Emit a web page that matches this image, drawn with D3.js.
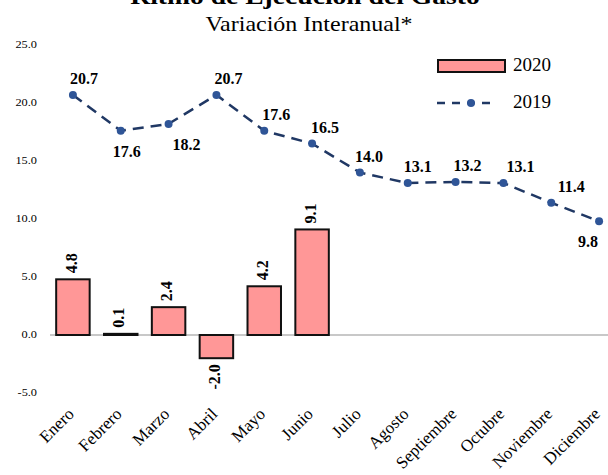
<!DOCTYPE html>
<html>
<head>
<meta charset="utf-8">
<script src="https://cdn.jsdelivr.net/npm/d3@7"></script>
<style>
  body { margin: 0; background: #fff; }
</style>
</head>
<body>
<div id="chart"></div>
<script>
// data
const months = ["Enero", "Febrero", "Marzo", "Abril", "Mayo", "Junio", "Julio",
                "Agosto", "Septiembre", "Octubre", "Noviembre", "Diciembre"];
const values2020 = [4.8, 0.1, 2.4, -2.0, 4.2, 9.1];
const values2019 = [20.7, 17.6, 18.2, 20.7, 17.6, 16.5, 14.0, 13.1, 13.2, 13.1, 11.4, 9.8];
const yTicks = [-5, 0, 5, 10, 15, 20, 25];

// label placement for the 2019 series (layout only)
const below2019 = [false, true, true, false, false, false, false, false, false, false, false, true];
const labelDx = [11, 6, 18, 12, 12, 13, 9, 10, 12, 17, 20, -11];

const width = 608, height = 475;
const serif = "'Liberation Serif', 'Times New Roman', serif";
const fmt = d => d.toFixed(1);

const svg = d3.select("#chart")
  .append("svg")
  .attr("width", width)
  .attr("height", height)
  .attr("font-family", serif);

const x = d3.scaleBand()
  .domain(months)
  .range([49, 623])
  .paddingInner(0.3)
  .paddingOuter(0.15);

const y = d3.scaleLinear()
  .domain([-5, 25])
  .range([393, 45]);

// titles
svg.append("text")
  .attr("transform", "translate(305,4) scale(1.15,1)")
  .attr("text-anchor", "middle")
  .style("font-size", "24px")
  .style("font-weight", "bold")
  .text("Ritmo de Ejecución del Gasto");

svg.append("text")
  .attr("transform", "translate(309,31) scale(1.2,1)")
  .attr("text-anchor", "middle")
  .style("font-size", "20px")
  .text("Variación Interanual*");

// y axis labels (no line)
svg.append("g")
  .selectAll("text")
  .data(yTicks)
  .join("text")
  .attr("transform", d => `translate(37,${y(d)}) scale(1.12,1)`)
  .attr("text-anchor", "end")
  .attr("dominant-baseline", "middle")
  .style("font-size", "11px")
  .text(fmt);

// zero line
svg.append("line")
  .attr("x1", 50).attr("x2", width)
  .attr("y1", y(0)).attr("y2", y(0))
  .attr("stroke", "#c8c8c8")
  .attr("stroke-width", 2);

// bars 2020
svg.append("g")
  .selectAll("rect")
  .data(values2020)
  .join("rect")
  .attr("x", (d, i) => x(months[i]))
  .attr("width", x.bandwidth())
  .attr("y", d => y(Math.max(0, d)))
  .attr("height", d => Math.abs(y(d) - y(0)))
  .attr("fill", "#ff9797")
  .attr("stroke", "#111")
  .attr("stroke-width", 2);

// bar labels (rotated)
svg.append("g")
  .selectAll("text")
  .data(values2020)
  .join("text")
  .attr("transform", (d, i) => {
    const cx = x(months[i]) + x.bandwidth() / 2;
    const cy = d >= 0 ? y(d) - 6 : y(d) + 6;
    return `translate(${cx},${cy}) rotate(-90)`;
  })
  .attr("text-anchor", d => d >= 0 ? "start" : "end")
  .attr("dominant-baseline", "middle")
  .style("font-size", "16px")
  .style("font-weight", "bold")
  .text(fmt);

// line 2019
const cx = m => x(m) + x.bandwidth() / 2;
const line = d3.line()
  .x((d, i) => cx(months[i]))
  .y(d => y(d));

svg.append("path")
  .datum(values2019)
  .attr("d", line)
  .attr("fill", "none")
  .attr("stroke", "#203864")
  .attr("stroke-width", 2.5)
  .attr("stroke-dasharray", "11,7");

svg.append("g")
  .selectAll("circle")
  .data(values2019)
  .join("circle")
  .attr("cx", (d, i) => cx(months[i]))
  .attr("cy", d => y(d))
  .attr("r", 4)
  .attr("fill", "#2f5597");

svg.append("g")
  .selectAll("text")
  .data(values2019)
  .join("text")
  .attr("x", (d, i) => cx(months[i]) + labelDx[i])
  .attr("y", (d, i) => below2019[i] ? y(d) + 26 : y(d) - 11)
  .attr("text-anchor", "middle")
  .style("font-size", "16px")
  .style("font-weight", "bold")
  .text(fmt);

// month labels
svg.append("g")
  .selectAll("text")
  .data(months)
  .join("text")
  .attr("transform", d => `translate(${cx(d) + 2},${415}) rotate(-45)`)
  .attr("text-anchor", "end")
  .style("font-size", "17px")
  .text(d => d);

// legend
const legend = svg.append("g");
legend.append("rect")
  .attr("x", 438).attr("y", 60)
  .attr("width", 67).attr("height", 12)
  .attr("fill", "#ff9797")
  .attr("stroke", "#111")
  .attr("stroke-width", 2);
legend.append("text")
  .attr("x", 513).attr("y", 67)
  .attr("dominant-baseline", "middle")
  .style("font-size", "19px")
  .text("2020");

legend.append("line")
  .attr("x1", 437).attr("x2", 494)
  .attr("y1", 103).attr("y2", 103)
  .attr("stroke", "#203864")
  .attr("stroke-width", 2.5)
  .attr("stroke-dasharray", "8,7");
legend.append("circle")
  .attr("cx", 471).attr("cy", 103)
  .attr("r", 4)
  .attr("fill", "#2f5597");
legend.append("text")
  .attr("x", 513).attr("y", 104)
  .attr("dominant-baseline", "middle")
  .style("font-size", "19px")
  .text("2019");
</script>
</body>
</html>
